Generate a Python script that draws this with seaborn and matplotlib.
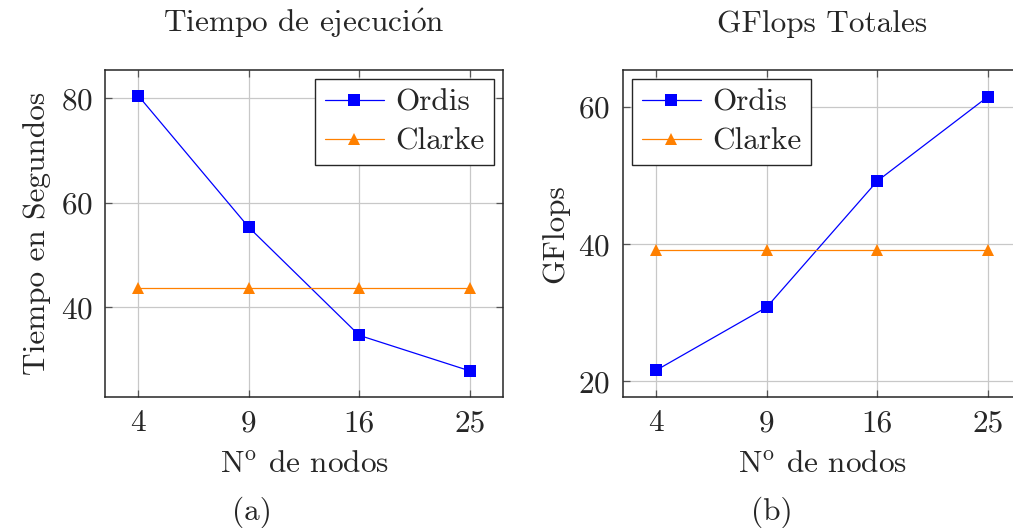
import matplotlib
matplotlib.use("Agg")
import matplotlib.pyplot as plt
import seaborn as sns
import pandas as pd
from matplotlib.lines import Line2D

nodes = ["4", "9", "16", "25"]
ordis_time = [80.5, 55.3, 34.6, 27.8]
clarke_time = [43.6, 43.6, 43.6, 43.6]
ordis_gflops = [21.6, 30.8, 49.2, 61.5]
clarke_gflops = [39.1, 39.1, 39.1, 39.1]
series = ["Ordis", "Clarke"]
colors = {"Ordis": "#0000ff", "Clarke": "#ff8000"}
markers = {"Ordis": "s", "Clarke": "^"}

sns.set_theme(style="white")
plt.rcParams["font.family"] = ["cmr10", "DejaVu Serif"]
plt.rcParams["mathtext.fontset"] = "cm"
plt.rcParams["axes.formatter.use_mathtext"] = True

FS = 22.5

def make_df(a, b):
    return pd.DataFrame({
        "nodos": nodes * 2,
        "valor": list(a) + list(b),
        "serie": [series[0]] * len(nodes) + [series[1]] * len(nodes),
    })

fig = plt.figure(figsize=(10.13, 5.28), dpi=100)
W, H = 1013, 528
def ax_at(x0, y0, x1, y1):
    return fig.add_axes([x0 / W, 1 - y1 / H, (x1 - x0) / W, (y1 - y0) / H])

ax1 = ax_at(105, 70, 503, 397)
ax2 = ax_at(623, 70, 1021, 397)

panels = [
    (ax1, make_df(ordis_time, clarke_time), "Tiempo de ejecuci$\\mathrm{\\acute{o}}$n",
     "Tiempo en Segundos", (22.8, 85.4), [40, 60, 80], "upper right"),
    (ax2, make_df(ordis_gflops, clarke_gflops), "GFlops Totales", "GFlops",
     (17.7, 65.4), [20, 40, 60], "upper left"),
]

for ax, df, title, ylabel, ylim, yticks, loc in panels:
    for s in series:
        sub = df[df["serie"] == s]
        sns.lineplot(data=sub, x="nodos", y="valor", ax=ax, color=colors[s],
                     marker=markers[s], markersize=9 if s == "Ordis" else 8,
                     markeredgewidth=0, linewidth=0.9, sort=False, legend=False,
                     zorder=3)
    ax.set_xlim(-0.3, 3.3)
    ax.set_ylim(*ylim)
    ax.set_yticks(yticks)
    ax.set_xticks(range(len(nodes)))
    ax.set_xticklabels(nodes)
    ax.grid(True, color="#c8c8c8", linewidth=0.9, zorder=0)
    ax.set_axisbelow(True)
    for sp in ax.spines.values():
        sp.set_color("#262626")
        sp.set_linewidth(1.1)
        sp.set_visible(True)
    ax.tick_params(direction="in", length=5, width=0.9, color="#555555",
                   top=True, right=True, bottom=True, left=True,
                   labelsize=FS, pad=9)
    ax.set_title(title, fontsize=FS, pad=27)
    ax.set_xlabel("N$^{\\mathrm{o}}$ de nodos", fontsize=FS, labelpad=9)
    ax.set_ylabel(ylabel, fontsize=FS, labelpad=7)
    handles = [Line2D([0], [0], color=colors[s], marker=markers[s], linewidth=0.9,
                      markersize=9 if s == "Ordis" else 8, markeredgewidth=0)
               for s in series]
    leg = ax.legend(handles, series, loc=loc, fontsize=FS, frameon=True,
                    fancybox=False, edgecolor="#262626", framealpha=1,
                    handlelength=1.9, handletextpad=0.35, borderpad=0.3,
                    labelspacing=0.35, borderaxespad=0.3)
    leg.get_frame().set_linewidth(1.0)

fig.text(252 / W, 1 - 512 / H, "(a)", fontsize=FS, ha="center", va="center")
fig.text(772 / W, 1 - 512 / H, "(b)", fontsize=FS, ha="center", va="center")

fig.savefig("out.png", dpi=100)
